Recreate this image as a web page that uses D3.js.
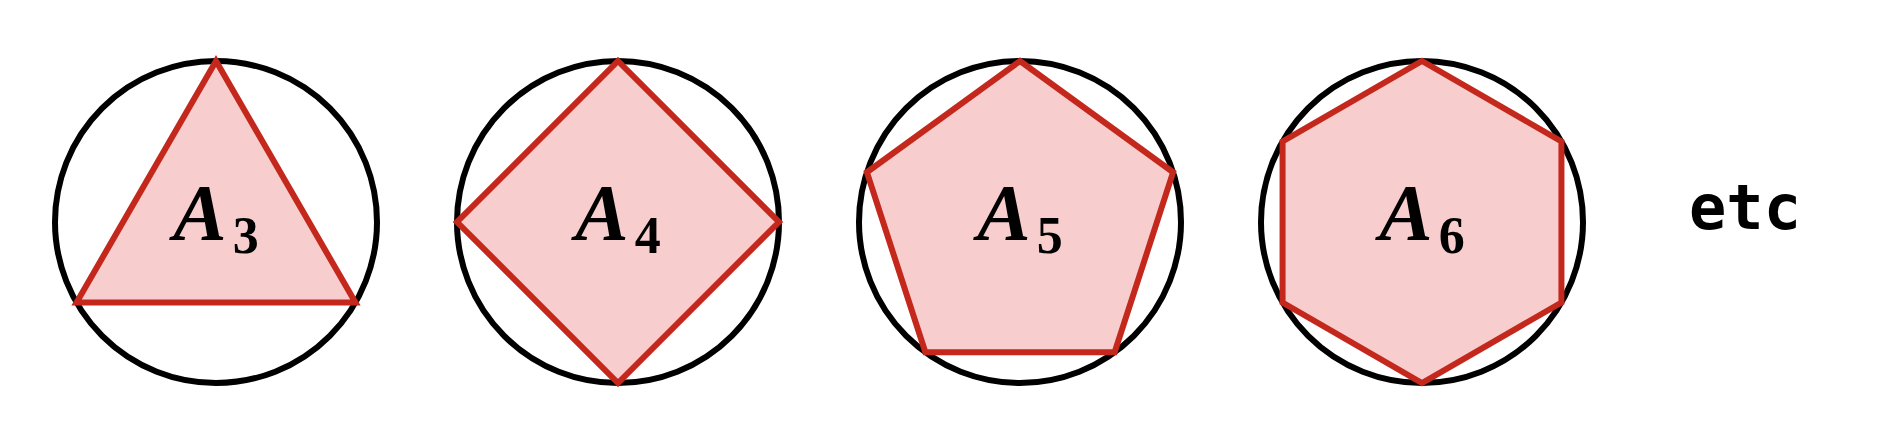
<!DOCTYPE html>
<html>
<head>
<meta charset="utf-8">
<script src="https://cdn.jsdelivr.net/npm/d3@7"></script>
<style>
  html, body { margin: 0; padding: 0; background: #fff; }
  svg { display: block; }
  .lbl { font-family: 'Liberation Serif', 'Times New Roman', serif; font-weight: bold; }
  .lbl .main { font-style: italic; }
  .etc { font-family: 'DejaVu Sans Mono', monospace; font-weight: bold; }
</style>
</head>
<body>
<div id="chart"></div>
<script>
// polygons inscribed in a circle
var sides = [3, 4, 5, 6];
var labels = ['A', 'A', 'A', 'A'];
var subscripts = ['3', '4', '5', '6'];
var extraLabel = 'etc';

var config = {
    wrapper: '#chart',
    size: { width: 1902, height: 432 },
    margin: { top: 0, right: 0, bottom: 0, left: 0 }
};

var svg = d3.select(config.wrapper).append('svg')
    .attr('width', config.size.width + config.margin.left + config.margin.right)
    .attr('height', config.size.height + config.margin.top + config.margin.bottom)
  .append('g')
    .attr('transform', 'translate(' + config.margin.left + ',' + config.margin.top + ')');

// one unit = circle radius
var x = d3.scaleLinear().domain([3, 6]).range([216, 1422]);
var r = d3.scaleLinear().domain([0, 1]).range([0, 161]);
var cy = 222;

function vertices(n) {
    return d3.range(n).map(function (i) {
        var a = -Math.PI / 2 + i * 2 * Math.PI / n;
        return [r(Math.cos(a)), r(Math.sin(a))];
    });
}

var line = d3.line().curve(d3.curveLinearClosed);

var g = svg.selectAll('g.shape')
    .data(sides)
  .enter().append('g')
    .attr('class', 'shape')
    .attr('transform', function (d) { return 'translate(' + x(d) + ',' + cy + ')'; });

g.append('circle')
    .attr('r', r(1))
    .attr('fill', 'none')
    .attr('stroke', '#000')
    .attr('stroke-width', 6);

g.append('path')
    .attr('d', function (d) { return line(vertices(d)); })
    .attr('fill', '#f7cdcd')
    .attr('stroke', '#c4281c')
    .attr('stroke-width', 6)
    .attr('stroke-linejoin', 'miter');

var t = g.append('text')
    .attr('class', 'lbl')
    .attr('y', 18)
    .attr('text-anchor', 'middle')
    .attr('fill', '#000');

t.append('tspan')
    .attr('class', 'main')
    .style('font-size', '80px')
    .text(function (d, i) { return labels[i]; });

t.append('tspan')
    .attr('dx', 6)
    .attr('dy', 13)
    .style('font-size', '52px')
    .text(function (d, i) { return subscripts[i]; });

svg.append('text')
    .attr('class', 'etc')
    .attr('x', 1745)
    .attr('y', 229)
    .attr('text-anchor', 'middle')
    .style('font-size', '62px')
    .attr('fill', '#000')
    .text(extraLabel);
</script>
</body>
</html>
